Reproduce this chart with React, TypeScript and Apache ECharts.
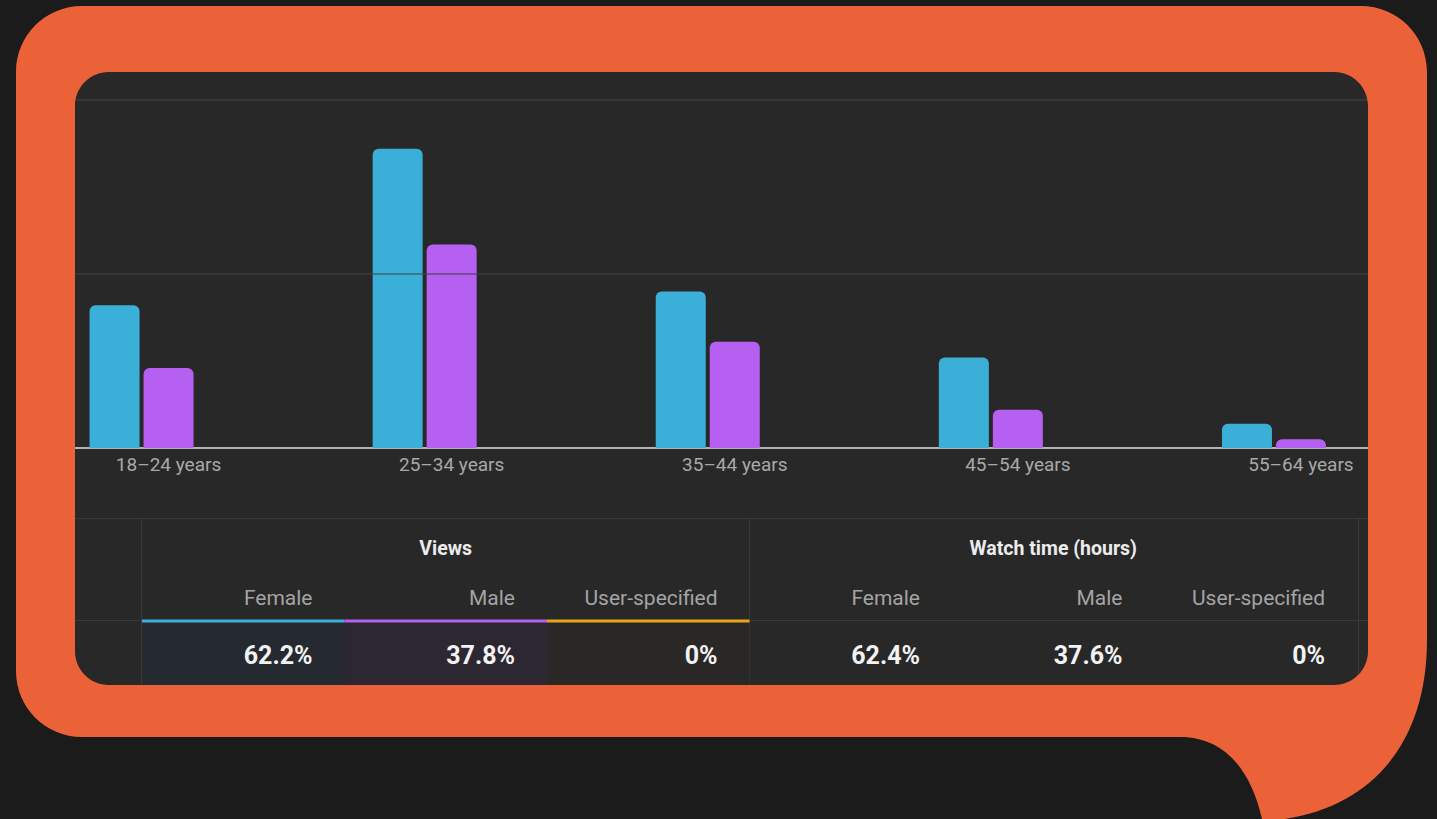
import React, { useEffect, useRef } from "react";
import * as echarts from "echarts";

// ---------- data ----------
const categories = ["18–24 years", "25–34 years", "35–44 years", "45–54 years", "55–64 years"];
const femaleShare = [8.2, 17.2, 9.0, 5.2, 1.4];
const maleShare = [4.6, 11.7, 6.1, 2.2, 0.5];
const yGridValues = [10, 20];

const tableGroups = ["Views", "Watch time (hours)"];
const tableColumns = ["Female", "Male", "User-specified"];
const viewsValues = ["62.2%", "37.8%", "0%"];
const watchValues = ["62.4%", "37.6%", "0%"];

// ---------- styling ----------
const ORANGE = "#EB6238";
const BG = "#1b1b1b";
const PANEL = "#282828";
const BLUE = "#3AB0D8";
const PURPLE = "#B660F2";
const AMBER = "#E8A317";
const FONT = "Roboto, 'Noto Sans', sans-serif";

const BUBBLE_CW =
  "M 82 6 L 1361 6 C 1397.5 6 1427 35.5 1427 72 L 1427 640 C 1427 740 1375 805 1285 819 " +
  "L 1262 819 C 1252 775 1228 737 1180 737 L 82 737 C 45.5 737 16 707.5 16 671 L 16 72 C 16 35.5 45.5 6 82 6 Z";
const PANEL_CCW =
  "M 109 72 C 90.2 72 75 87.2 75 106 L 75 651 C 75 669.8 90.2 685 109 685 L 1334 685 " +
  "C 1352.8 685 1368 669.8 1368 651 L 1368 106 C 1368 87.2 1352.8 72 1334 72 Z";
const CANVAS_CCW = "M 0 0 L 0 819 L 1437 819 L 1437 0 Z";

echarts.graphic.registerShape("darkMask", echarts.graphic.extendPath(CANVAS_CCW + " " + BUBBLE_CW, {}));
echarts.graphic.registerShape("orangeFrame", echarts.graphic.extendPath(BUBBLE_CW + " " + PANEL_CCW, {}));

function buildTable(): any[] {
  const els: any[] = [];
  const line = (x1: number, y1: number, x2: number, y2: number, stroke: string, w = 1, z = 1) => ({
    type: "line",
    z,
    shape: { x1, y1, x2, y2 },
    style: { stroke, lineWidth: w },
    silent: true,
  });
  // borders
  els.push(line(75, 518.5, 1368, 518.5, "#383838"));
  els.push(line(75, 620.5, 1368, 620.5, "#3a3a3a"));
  els.push(line(141.5, 518, 141.5, 685, "#3a3a3a"));
  els.push(line(749.5, 518, 749.5, 685, "#3a3a3a"));
  els.push(line(1358.5, 518, 1358.5, 685, "#3a3a3a"));

  const groupStarts = [142, 749.5];
  const colW = 202.5;
  const tints = ["#252a31", "#2d2731", "#2a2727"];
  const bars = [BLUE, PURPLE, AMBER];
  const groupValues = [viewsValues, watchValues];

  groupStarts.forEach((gx, g) => {
    els.push({
      type: "text",
      z: 3,
      x: gx + colW * 1.5,
      y: 548,
      style: {
        text: tableGroups[g],
        fill: "#ececec",
        font: `bold 19.5px ${FONT}`,
        align: "center",
        verticalAlign: "middle",
      },
    });
    tableColumns.forEach((c, i) => {
      const x0 = gx + colW * i;
      if (g === 0) {
        els.push({
          type: "rect",
          z: 1,
          shape: { x: x0, y: 623, width: colW, height: 62 },
          style: { fill: tints[i] },
          silent: true,
        });
        els.push({
          type: "rect",
          z: 2,
          shape: { x: x0, y: 619.5, width: colW, height: 3 },
          style: { fill: bars[i] },
          silent: true,
        });
      }
      els.push({
        type: "text",
        z: 3,
        x: x0 + colW - 32,
        y: 598,
        style: {
          text: c,
          fill: "#a4a4a4",
          font: `21px ${FONT}`,
          align: "right",
          verticalAlign: "middle",
        },
      });
      els.push({
        type: "text",
        z: 3,
        x: x0 + colW - 32,
        y: 655,
        style: {
          text: groupValues[g][i],
          fill: "#f2f2f2",
          font: `bold 25px ${FONT}`,
          align: "right",
          verticalAlign: "middle",
        },
      });
    });
  });
  return els;
}

export default function App() {
  const ref = useRef<HTMLDivElement>(null);

  useEffect(() => {
    document.body.style.margin = "0";
    const chart = echarts.init(ref.current!, null, { renderer: "svg" });
    const option: any = {
      animation: false,
      backgroundColor: BG,
      grid: { left: -2.5, right: 21.5, top: 100, bottom: 371, containLabel: false },
      xAxis: {
        type: "category",
        data: categories,
        boundaryGap: true,
        axisTick: { show: false },
        axisLine: { show: true, lineStyle: { color: "#b4b4b4", width: 2 } },
        axisLabel: {
          color: "#a8a8a8",
          fontSize: 19,
          fontFamily: FONT,
          margin: 7,
          padding: [0, 0, 0, 54],
        },
        splitLine: { show: false },
      },
      yAxis: {
        type: "value",
        min: 0,
        max: 20,
        interval: 10,
        show: false,
        splitLine: { show: false },
      },
      series: [
        {
          name: "Female",
          type: "bar",
          data: femaleShare,
          barWidth: 50,
          barGap: "8%",
          itemStyle: { color: BLUE, borderRadius: [6, 6, 0, 0] },
          markLine: {
            silent: true,
            symbol: ["none", "none"],
            label: { show: false },
            z: 5,
            lineStyle: { color: "rgba(66,66,66,0.72)", width: 1.5, type: "solid" },
            data: yGridValues.map((v) => ({ yAxis: v })),
          },
        },
        {
          name: "Male",
          type: "bar",
          data: maleShare,
          barWidth: 50,
          barGap: "8%",
          itemStyle: { color: PURPLE, borderRadius: [6, 6, 0, 0] },
        },
      ],
      graphic: [
        {
          type: "rect",
          z: -10,
          shape: { x: 75, y: 72, width: 1293, height: 613, r: 34 },
          style: { fill: PANEL },
          silent: true,
        },
        ...buildTable(),
        { type: "darkMask", z: 100, x: 0, y: 0, style: { fill: BG }, silent: true },
        { type: "orangeFrame", z: 101, x: 0, y: 0, style: { fill: ORANGE }, silent: true },
      ],
    };
    chart.setOption(option);
    return () => chart.dispose();
  }, []);

  return (
    <div
      ref={ref}
      style={{ position: "fixed", left: 0, top: 0, width: 1437, height: 819 }}
    />
  );
}
